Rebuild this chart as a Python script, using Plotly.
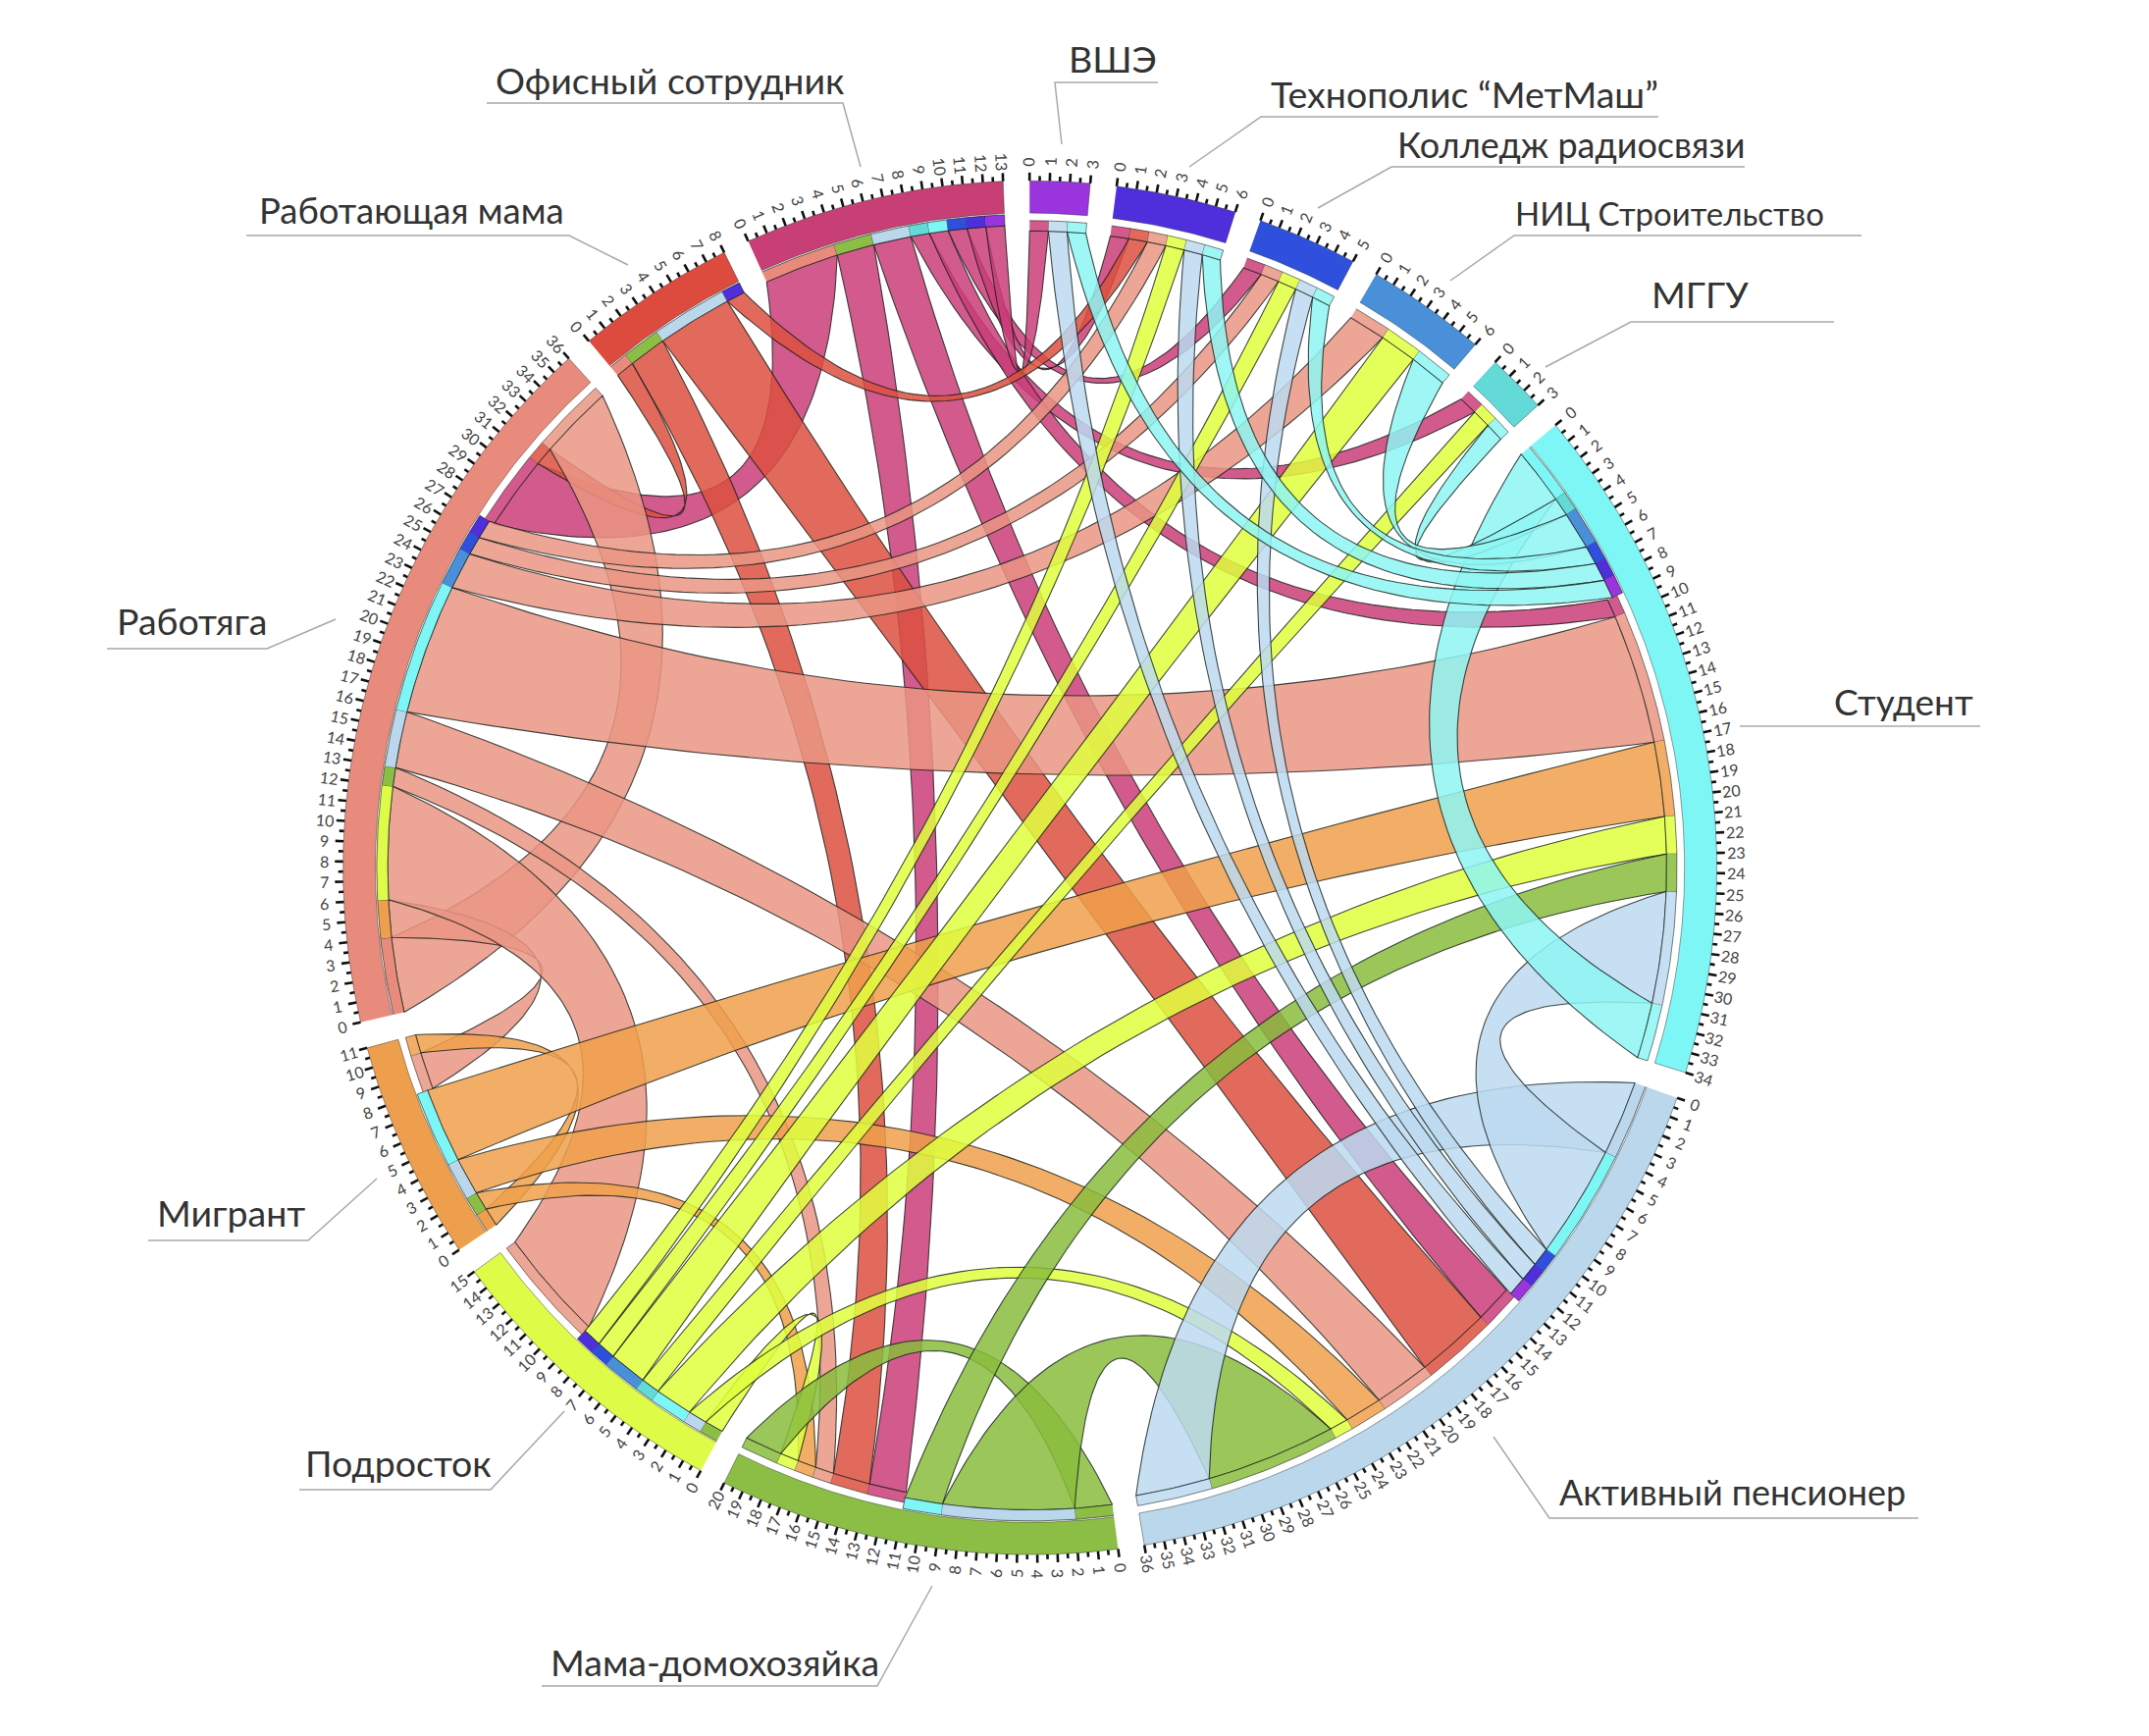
import numpy as np
import plotly.graph_objects as go

W, H = 2190, 1769
BODY = 8  # page margin round the plot
CX, CY, RPX = 1047.5, 880.0, 700.0
RING_DX, RING_DY = 0.003, -0.006  # offset of the wheel from the label frame

# ---- data ----
sector_names = ["Студент", "Активный пенсионер", "Мама-домохозяйка", "Подросток", "Мигрант", "Работяга",
                "Работающая мама", "Офисный сотрудник", "ВШЭ", "Технополис “МетМаш”", "Колледж радиосвязи",
                "НИЦ Строительство", "МГГУ"]
sector_sizes = [34, 36, 20, 15, 11, 36, 8, 13, 3, 6, 5, 6, 3]
sector_colors = ["#7FF6F6", "#BAD7EC", "#8CBE46", "#DEFB48", "#EE9F4E", "#E98B7C",
                 "#DD4A3E", "#C83F76", "#9A35DE", "#4F2EDC", "#2F50DC", "#4A90D9", "#63DAD8"]
link_colors = ["#8EF6F3", "#BCD9F0", "#8ABC3D", "#E0FF3D", "#F0A04B", "#EA9584",
               "#DD5040", "#CA3D78", "#9A35DE", "#4F2EDC", "#2F50DC", "#4A90D9", "#63DAD8"]
S, A, M, P, G, R, W_, O, V, T, K, N, U = range(13)

# outgoing links, in the order they leave each sector
link_source = [S, S, S, S, S, S,
               A, A, A, A, A,
               M, M, M,
               P, P, P, P, P, P, P,
               G, G, G, G,
               R, R, R, R, R, R, R, R, R,
               W_, W_, W_, W_,
               O, O, O, O, O, O, O, O]
link_target = [S, U, N, K, T, V,
               A, S, K, T, V,
               M, A, S,
               M, A, S, U, N, K, T,
               G, M, A, S,
               R, G, P, M, A, S, N, K, T,
               R, M, A, T,
               R, M, A, U, S, K, T, V]
link_value = [3, 1, 2, 1, 1, 1,
              4, 6, 1, 1, 1,
              2, 7, 2,
              1, 1, 2, 1, 2, 1, 1,
              1, 1, 2, 4,
              4, 2, 6, 1, 3, 7, 2, 1, 1,
              1, 2, 4, 1,
              4, 2, 2, 1, 1, 1, 1, 1]
incoming_order = [O, W_, R, G, P, M, A, S]
draw_order = [O, W_, R, G, P, M, A, S]

label_text = sector_names
label_center_px = [(1940, 714), (1765, 1520), (728, 1693), (406, 1490), (235, 1235), (196, 632),
                   (419, 214), (682, 81), (1134, 59), (1492, 95), (1601, 147), (1701, 217), (1732, 299)]
label_font_px = [37, 36, 37.5, 37.5, 37.5, 37.5, 36.5, 37.5, 37.5, 37.5, 36, 33, 37.5]
leader_px = [[(1773, 740), (2018, 740)],
             [(1955, 1547), (1579, 1547), (1522, 1464)],
             [(552, 1718), (894, 1718), (950, 1616)],
             [(305, 1518), (500, 1518), (575, 1438)],
             [(151, 1264), (314, 1264), (384, 1201)],
             [(109, 661), (272, 661), (342, 631)],
             [(251, 240), (580, 240), (640, 270)],
             [(496, 105), (859, 105), (877, 170)],
             [(1180, 84), (1075, 84), (1082, 147)],
             [(1690, 119), (1285, 119), (1212, 170)],
             [(1778, 170), (1418, 170), (1343, 212)],
             [(1897, 240), (1543, 240), (1478, 286)],
             [(1869, 328), (1662, 328), (1575, 374)]]

# ---- geometry ----
START = 49.9
UNIT = 1.69
GAP = (360 - sum(sector_sizes) * UNIT) / len(sector_sizes)
RING_OUT, RING_IN = 1.0, 0.953
STRIP_OUT, STRIP_IN = 0.951, 0.935
END_OUT, END_IN = 0.942, 0.927
LINK_ALPHA = 0.85

starts = []
a0 = START
for size in sector_sizes:
    starts.append(a0)
    a0 += size * UNIT + GAP


def ang(sec, pos):
    return starts[sec] + pos * UNIT


def polar(theta, r):
    t = np.radians(theta)
    return r * np.sin(t) + RING_DX, r * np.cos(t) + RING_DY


def arc(t0, t1, r0, n=None):
    n = n or max(2, int(abs(t1 - t0) * 2) + 2)
    ts = np.linspace(t0, t1, n)
    return polar(ts, r0)


def control_radius(delta):
    return np.interp(delta, [0, 14, 20, 34, 39, 47, 57, 90, 143, 180],
                     [0.50, 0.53, 0.54, 0.51, 0.50, 0.43, 0.39, 0.22, 0.085, 0.03])


def bezier(t0, r0, t1, r1, n=60):
    d = (t1 - t0 + 180) % 360 - 180
    delta = abs(d)
    mid = t0 + d / 2
    cx, cy = polar(mid, control_radius(delta))
    x0, y0 = polar(t0, r0)
    x1, y1 = polar(t1, r1)
    u = np.linspace(0, 1, n)
    return ((1 - u) ** 2 * x0 + 2 * u * (1 - u) * cx + u ** 2 * x1,
            (1 - u) ** 2 * y0 + 2 * u * (1 - u) * cy + u ** 2 * y1)


def rgba(hex_color, alpha):
    h = hex_color.lstrip("#")
    return "rgba(%d,%d,%d,%.2f)" % (int(h[:2], 16), int(h[2:4], 16), int(h[4:], 16), alpha)


# allocate positions along the sectors from the link lists
used = [0] * 13
out_pos = []
for s, v in zip(link_source, link_value):
    out_pos.append((used[s], used[s] + v))
    used[s] += v
in_pos = [None] * len(link_value)
for src in incoming_order:
    for i, (s, t, v) in enumerate(zip(link_source, link_target, link_value)):
        if s == src:
            in_pos[i] = (used[t], used[t] + v)
            used[t] += v

fig = go.Figure()
LINE = "rgba(20,30,25,0.8)"


def poly(xs, ys, fill, line=None, width=1.1):
    fig.add_trace(go.Scatter(x=np.round(xs, 5), y=np.round(ys, 5), mode="lines", fill="toself", fillcolor=fill,
                             line=dict(color=line or "rgba(0,0,0,0)", width=width if line else 0),
                             hoverinfo="skip", showlegend=False))


# chords
for src in draw_order:
    for i, s in enumerate(link_source):
        if s != src:
            continue
        t = link_target[i]
        a, b = ang(s, out_pos[i][0]), ang(s, out_pos[i][1])
        c, d = ang(t, in_pos[i][0]), ang(t, in_pos[i][1])
        fill = rgba(link_colors[s], LINK_ALPHA)
        x1, y1 = arc(a, b, STRIP_IN)
        x2, y2 = bezier(b, STRIP_IN, c, END_IN)
        x3, y3 = arc(c, d, END_IN)
        x4, y4 = bezier(d, END_IN, a, STRIP_IN)
        poly(np.concatenate([x1, x2, x3, x4]), np.concatenate([y1, y2, y3, y4]), fill, LINE)
        # end cap of the chord at the target side
        x5, y5 = arc(c, d, END_OUT)
        x6, y6 = arc(d, c, END_IN)
        poly(np.concatenate([x5, x6]), np.concatenate([y5, y6]), fill, LINE, 0.7)
        # strip coloured by the partner sector at the source side
        x7, y7 = arc(a, b, STRIP_OUT)
        x8, y8 = arc(b, a, STRIP_IN)
        poly(np.concatenate([x7, x8]), np.concatenate([y7, y8]), sector_colors[t], LINE, 0.8)

# outer ring, ticks, tick labels
tick_x, tick_y, minor_x, minor_y = [], [], [], []
annotations = []
for sec, size in enumerate(sector_sizes):
    t0, t1 = ang(sec, 0), ang(sec, size)
    x5, y5 = arc(t0, t1, RING_OUT)
    x6, y6 = arc(t1, t0, RING_IN)
    poly(np.concatenate([x5, x6]), np.concatenate([y5, y6]), sector_colors[sec], "rgba(30,40,40,0.55)", 0.8)
    for k in range(size + 1):
        th = ang(sec, k)
        x0, y0 = polar(th, RING_OUT)
        x1, y1 = polar(th, RING_OUT + 0.012)
        tick_x += [x0, x1, None]
        tick_y += [y0, y1, None]
        lx, ly = polar(th, 1.028)
        angle = th - 90 if th % 360 < 180 else th + 90
        annotations.append(dict(x=float(lx), y=float(ly), xref="x", yref="y", text=str(k), showarrow=False,
                                textangle=float(((angle + 180) % 360) - 180),
                                font=dict(family="Lato", size=16, color="#444444")))
        if k < size:
            tm = ang(sec, k + 0.5)
            x0, y0 = polar(tm, RING_OUT)
            x1, y1 = polar(tm, RING_OUT + 0.007)
            minor_x += [x0, x1, None]
            minor_y += [y0, y1, None]

fig.add_trace(go.Scatter(x=tick_x, y=tick_y, mode="lines", line=dict(color="#111", width=2.6),
                         hoverinfo="skip", showlegend=False))
fig.add_trace(go.Scatter(x=minor_x, y=minor_y, mode="lines", line=dict(color="#111", width=2.6),
                         hoverinfo="skip", showlegend=False))


def to_x(px):
    return (px - CX) / RPX


def to_y(py):
    return (CY - py) / RPX


for txt, (px, py), size in zip(label_text, label_center_px, label_font_px):
    annotations.append(dict(x=to_x(px), y=to_y(py), xref="x", yref="y", text=txt, showarrow=False,
                            font=dict(family="Lato", size=size, color="#333333")))

for pts in leader_px:
    xs = [to_x(p[0]) for p in pts]
    ys = [to_y(p[1]) for p in pts]
    fig.add_trace(go.Scatter(x=xs, y=ys, mode="lines", line=dict(color="#a8a8a8", width=1.5),
                             hoverinfo="skip", showlegend=False))

fig.update_layout(width=W - 2 * BODY, height=H - 2 * BODY, margin=dict(l=0, r=0, t=0, b=0),
                  paper_bgcolor="white", plot_bgcolor="white", showlegend=False, annotations=annotations,
                  xaxis=dict(range=[to_x(BODY), to_x(W - BODY)], visible=False, fixedrange=True),
                  yaxis=dict(range=[to_y(H - BODY), to_y(BODY)], visible=False, fixedrange=True))
fig.write_html("out.html", config={"displayModeBar": False})
